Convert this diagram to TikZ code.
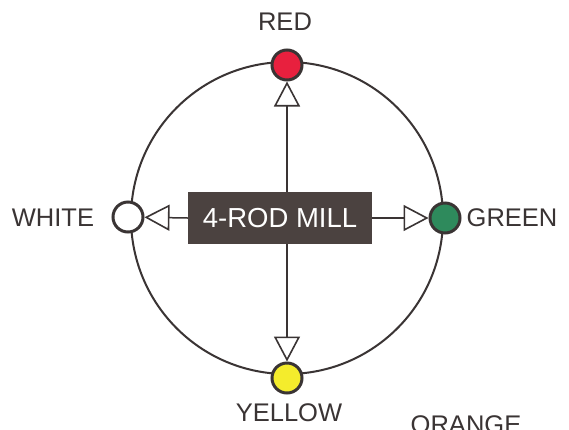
\documentclass[tikz,border=0pt]{standalone}
\usepackage{fontspec}
\setmainfont{Liberation Sans}
\usetikzlibrary{arrows.meta}
\definecolor{ink}{HTML}{3A3434}
\definecolor{boxfill}{HTML}{4B4240}
\definecolor{redfill}{HTML}{E8203E}
\definecolor{greenfill}{HTML}{2E8A5C}
\definecolor{yellowfill}{HTML}{F4EC2C}
\tikzset{
  lamp/.style={circle, draw=ink, line width=3pt, minimum size=30pt, inner sep=0pt},
  lbl/.style={text=ink, font=\fontsize{25.5}{25.5}\selectfont},
  feed/.style={draw=ink, line width=1.5pt, -{Triangle[open, length=25pt, width=26pt, line width=1.6pt]}},
}
\begin{document}
\begin{tikzpicture}[x=1pt,y=-1pt]
\useasboundingbox (0,0) rectangle (569,429);
\clip (0,0) rectangle (569,429);
\fill[white] (0,0) rectangle (569,429);
\draw[ink, line width=2pt] (287,218) circle[radius=156];
\node[lamp, fill=redfill] (red) at (287,65) {};
\node[lamp, fill=greenfill] (green) at (445,218) {};
\node[lamp, fill=white] (white) at (128,217) {};
\node[lamp, fill=yellowfill] (yellow) at (287,378) {};
\node[fill=boxfill, minimum width=184pt, minimum height=52pt, inner sep=0pt, text=white, font=\fontsize{27.5}{27.5}\selectfont] (mill) at (280,218) {4-ROD MILL};
\draw[feed] (mill.north -| red) -- (red);
\draw[feed] (mill.south -| yellow) -- (yellow);
\draw[feed] (mill.west) -- (white);
\draw[feed] (mill.east) -- (green);
\node[lbl] (redl) at (285,22) {RED};
\node[lbl] (whitel) at (53,218) {WHITE};
\node[lbl] (greenl) at (512,218) {GREEN};
\node[lbl] (yellowl) at (289,413) {YELLOW};
\node[lbl, anchor=base] (orangel) at (466,433) {ORANGE};
\end{tikzpicture}
\end{document}
